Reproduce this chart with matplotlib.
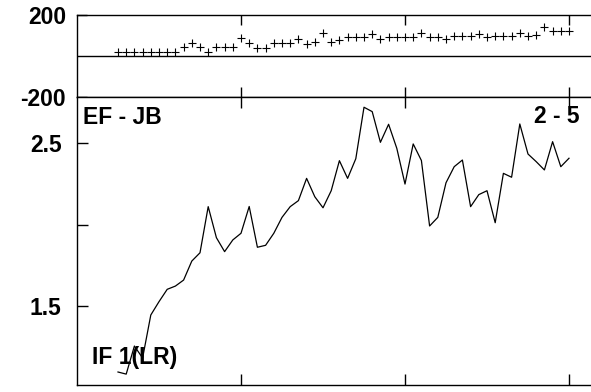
import matplotlib.pyplot as plt

plt.rcParams['font.family'] = ['Liberation Sans', 'DejaVu Sans']
plt.rcParams['font.weight'] = 'bold'

# x positions of the samples
x_vals = [0.25, 0.30, 0.35, 0.40, 0.45, 0.50, 0.55, 0.60, 0.65, 0.70,
          0.75, 0.80, 0.85, 0.90, 0.95, 1.00, 1.05, 1.10, 1.15, 1.20,
          1.25, 1.30, 1.35, 1.40, 1.45, 1.50, 1.55, 1.60, 1.65, 1.70,
          1.75, 1.80, 1.85, 1.90, 1.95, 2.00, 2.05, 2.10, 2.15, 2.20,
          2.25, 2.30, 2.35, 2.40, 2.45, 2.50, 2.55, 2.60, 2.65, 2.70,
          2.75, 2.80, 2.85, 2.90, 2.95, 3.00]

# upper panel: difference (+ markers)
diff_vals = [20, 20, 20, 20, 20, 20, 20, 20, 45, 65,
             45, 18, 45, 45, 45, 88, 65, 40, 40, 65,
             65, 65, 82, 58, 70, 110, 70, 80, 95, 95,
             95, 106, 84, 95, 95, 95, 95, 112, 95, 95,
             84, 97, 97, 97, 108, 92, 100, 100, 100, 112,
             100, 104, 140, 122, 122, 122]

# lower panel: ratio line
ratio_vals = [1.092, 1.079, 1.252, 1.178, 1.443, 1.525, 1.601, 1.621, 1.658, 1.775,
              1.826, 2.110, 1.919, 1.833, 1.905, 1.946, 2.111, 1.860, 1.872, 1.946,
              2.044, 2.110, 2.147, 2.284, 2.171, 2.103, 2.208, 2.393, 2.284, 2.405,
              2.722, 2.695, 2.506, 2.617, 2.469, 2.249, 2.496, 2.394, 1.991, 2.044,
              2.257, 2.356, 2.397, 2.110, 2.184, 2.208, 2.011, 2.315, 2.291, 2.619,
              2.434, 2.387, 2.336, 2.510, 2.356, 2.408]

W, H = 591, 392
fig = plt.figure(figsize=(W / 100, H / 100), dpi=100)

left_px, right_px = 77, 600
px_per_unit = 164
xmax = (right_px - left_px) / px_per_unit
ax_w = (right_px - left_px) / W

ax1 = fig.add_axes([left_px / W, 1 - 97 / H, ax_w, 82 / H])
ax2 = fig.add_axes([left_px / W, 1 - 385 / H, ax_w, 288 / H])

fs = 16.5
for ax in (ax1, ax2):
    ax.set_xlim(0, xmax)
    ax.spines['right'].set_visible(False)
    for s in ('left', 'top', 'bottom'):
        ax.spines[s].set_linewidth(1.0)
    ax.set_xticks([1, 2, 3])
    ax.tick_params(axis='x', direction='in', top=True, bottom=True,
                   labelbottom=False, length=8, width=1.0)

# upper panel
ax1.plot(x_vals, diff_vals, linestyle='none', marker='+', color='black',
         markersize=6, markeredgewidth=0.8)
ax1.axhline(0, color='black', linewidth=1.0)
ax1.set_ylim(-200, 200)
ax1.set_yticks([-200, 200])
ax1.set_yticklabels(['-200', '200'])
ax1.tick_params(axis='y', direction='in', length=7, width=1.0, pad=8,
                labelsize=fs)
ax1.tick_params(axis='x', length=7)

# lower panel
ax2.plot(x_vals, ratio_vals, color='black', linewidth=0.9)
ax2.set_ylim(1.012, 2.785)
ax2.set_yticks([1.5, 2.0, 2.5])
ax2.set_yticklabels(['1.5', '', '2.5'])
ax2.tick_params(axis='y', direction='in', length=8, width=1.0, pad=11,
                labelsize=fs)

# x in data units, y in axes fraction
tr = ax2.get_xaxis_transform()
ax2.text(0.037, 0.906, 'EF - JB', transform=tr,
         fontsize=fs, fontweight='bold', va='baseline', ha='left')
ax2.text(3.067, 0.910, '2 - 5', transform=tr,
         fontsize=fs, fontweight='bold', va='baseline', ha='right')
ax2.text(0.092, 0.073, 'IF 1(LR)', transform=tr,
         fontsize=fs, fontweight='bold', va='baseline', ha='left')

fig.savefig('out.png', dpi=100)
